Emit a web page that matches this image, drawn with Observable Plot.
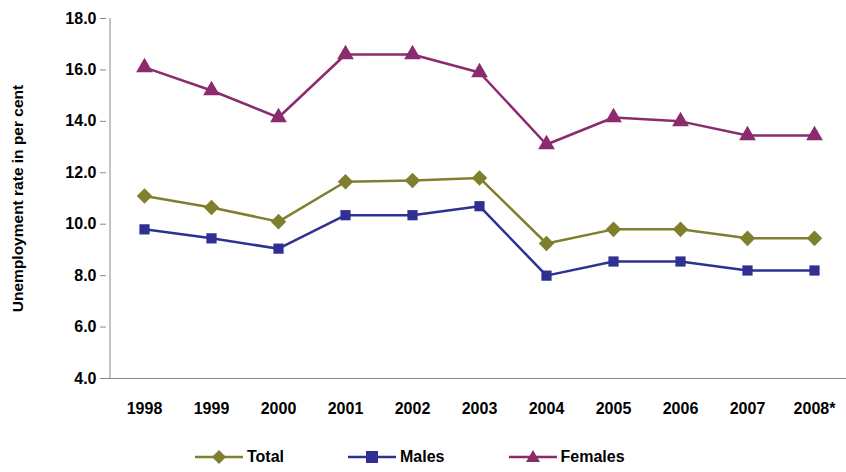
<!DOCTYPE html>
<html><head><meta charset="utf-8">
<script src="https://cdn.jsdelivr.net/npm/d3@7"></script>
<script src="https://cdn.jsdelivr.net/npm/@observablehq/plot@0.6"></script>
<style>
body{margin:0;background:#fff;font-family:"Liberation Sans",Arial,sans-serif;}
#chart svg g[aria-label$="axis tick label"] text{font-size:16px;}
#chart svg g[aria-label$="axis label"] text{font-size:15.5px;}
#legend{display:flex;margin-left:195px;margin-top:16px;font-weight:bold;font-size:16px;}
#legend span{display:flex;align-items:center;gap:4px;margin-right:64px;}
</style></head><body>
<div id="chart"></div>
<div id="legend"></div>
<script>
const years = ["1998","1999","2000","2001","2002","2003","2004","2005","2006","2007","2008*"];
const total = [11.1,10.65,10.1,11.65,11.7,11.8,9.25,9.8,9.8,9.45,9.45];
const males = [9.8,9.45,9.05,10.35,10.35,10.7,8.0,8.55,8.55,8.2,8.2];
const females = [16.1,15.2,14.15,16.6,16.6,15.9,13.1,14.15,14.0,13.45,13.45];
const series = [
  {name:"Total", values: total, color:"#7f7f2e", symbol:"diamond2", r:7},
  {name:"Males", values: males, color:"#2e3192", symbol:"square2", r:6.5},
  {name:"Females", values: females, color:"#8c2a6e", symbol:"triangle2", r:8}
];
const rows = series.flatMap(s => s.values.map((v,i) => ({year: years[i], value: v, name: s.name})));
const colorScale = {domain: series.map(s=>s.name), range: series.map(s=>s.color)};

const chart = Plot.plot({
  width: 846, height: 432,
  marginLeft: 106, marginRight: -6, marginTop: 18, marginBottom: 54,
  style: {fontFamily: "Liberation Sans, Arial, sans-serif", fontSize: 15, fontWeight: "bold", color: "#000"},
  x: {type: "point", domain: years, padding: 0.5, label: null, tickSize: 0, tickPadding: 24},
  y: {domain: [4, 18], ticks: d3.range(4, 18.1, 2), tickFormat: d => d.toFixed(1), label: "Unemployment rate in per cent", labelAnchor: "center", labelArrow: "none", labelOffset: 95, tickSize: 6, tickPadding: 4},
  color: colorScale,
  symbol: {domain: series.map(s=>s.name), range: series.map(s=>s.symbol)},
  marks: [
    Plot.ruleY([4], {stroke: "#888"}),
    Plot.ruleX([years[0]], {y1: 4, y2: 18, dx: -34.5, stroke: "#888"}),
    Plot.lineY(rows, {x: "year", y: "value", z: "name", stroke: "name", strokeWidth: 2.5}),
    ...series.map(s => Plot.dot(rows.filter(d => d.name === s.name), {x: "year", y: "value", fill: "name", symbol: "name", r: s.r, stroke: "none"}))
  ]
});
d3.select("#chart").append(() => chart);
d3.select(chart).selectAll("[aria-label='y-axis tick'] path").attr("stroke", "#888");

const sym = {Total: "M0,-7L7,0L0,7L-7,0Z", Males: "M-6,-6H6V6H-6Z", Females: "M0,-7L7,5H-7Z"};
const lg = d3.select("#legend");
series.forEach(s => {
  const sp = lg.append("span");
  const svg = sp.append("svg").attr("width", 48).attr("height", 18);
  svg.append("line").attr("x1", 0).attr("x2", 48).attr("y1", 9).attr("y2", 9).attr("stroke", s.color).attr("stroke-width", 2.5);
  svg.append("path").attr("d", sym[s.name]).attr("transform", "translate(24,9)").attr("fill", s.color);
  sp.append("text").text(s.name);
});
</script>
</body></html>
